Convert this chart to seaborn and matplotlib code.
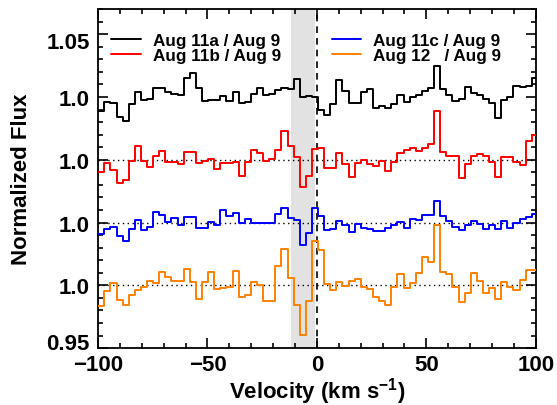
import numpy as np
import pandas as pd
import matplotlib
matplotlib.use('Agg')
import matplotlib.pyplot as plt
import matplotlib.transforms as mtransforms
import seaborn as sns
from matplotlib.ticker import MultipleLocator, FixedLocator, FixedFormatter

# velocity bins (km/s)
bin_width = 2.79
first_edge = -99.93
n_bins = 72

# ratio spectra, deviation from 1 in percent, one value per bin
dev_11a = [-1.11, -0.37, -0.5, -1.56, -1.9, -0.53, 0.43, -0.23, -0.13, 0.75,
           0.75, 0.38, 0.27, 0.16, 1.49, 1.89, 0.75, -0.31, -0.26, -0.21,
           0.08, -0.31, 0.43, -0.45, -0.37, 0.22, 0.75, 0.16, 0.27, 0.59,
           0.75, 0.67, 1.44, 0.0, 0.11, 0.03, -1.06, -1.45, -0.58, 1.36,
           0.48, -0.45, -0.45, 0.4, 0.67, -0.84, -0.71, -0.84, -0.58, 0.16,
           -0.37, 0.03, 0.14, 0.48, 0.72, 2.45, 0.67, 0.16, -0.31, -0.13,
           0.8, 0.35, 0.16, -0.13, -0.5, -1.69, -0.26, 0.0, 0.88, 0.83,
           0.88, 1.54]
dev_11b = [-0.95, -0.29, -0.8, -1.86, -1.59, -0.08, 1.14, -0.08, -0.58, 0.32,
           0.72, -0.16, -0.16, -0.34, 0.66, 0.66, -0.27, -0.08, 0.03, -0.72,
           -0.29, -0.29, -0.21, -1.27, -0.16, 0.8, 0.58, -0.11, 0.03, 0.8,
           2.33, 1.11, 0.19, -2.18, -1.3, 0.9, 0.95, -0.69, -0.66, 0.58,
           -0.34, -1.35, -0.27, 0.0, -0.37, -0.48, -0.11, -0.93, -0.21, 0.53,
           0.8, 0.93, 0.72, 0.95, 1.25, 3.9, 0.66, 0.27, 0.27, -1.41,
           -0.34, 0.27, 0.45, 0.27, -0.21, -1.35, 0.24, 0.19, -0.21, -0.4,
           1.51, 1.96]
dev_11c = [-0.93, -0.53, -0.32, -1.06, -1.46, -0.53, 0.19, -0.61, -0.34, 0.85,
           0.61, 0.08, 0.34, -0.16, 0.48, 0.48, -0.45, -0.45, 0.08, -0.21,
           0.98, 0.53, 0.74, -0.05, 0.27, 0.0, 0.0, 0.0, 0.0, 0.66,
           1.19, 0.37, 0.19, -1.8, -0.8, 1.19, 0.53, -0.61, -0.48, 0.16,
           -0.21, -0.72, -0.08, -0.45, -0.53, -0.66, -0.66, -0.45, -0.21, 0.08,
           -0.4, 0.27, 0.21, 0.61, 0.61, 1.72, 0.53, 0.13, -0.32, -0.58,
           -0.21, 0.13, -0.13, -0.53, -0.21, -0.53, 0.13, -0.4, 0.0, 0.27,
           0.48, 0.72]
dev_12 = [-1.62, -0.42, 0.16, -1.14, -1.59, -0.8, -0.4, -0.16, 0.32, 0.21,
          1.03, 0.64, 0.37, 0.37, 1.3, 0.27, -1.11, 0.27, 1.03, -0.32,
          -0.19, -0.1, 1.11, -0.95, -0.8, 0.29, 0.03, -1.22, -1.27, 1.51,
          2.86, 0.56, -1.56, -3.98, -1.25, 3.53, 2.81, 0.08, -0.34, 0.24,
          -0.08, 0.37, 0.53, -0.13, -0.29, -0.95, -1.27, -1.59, -0.16, 0.88,
          -0.21, 0.21, 1.0, 2.23, 1.83, 4.8, 1.09, 0.93, -0.16, -1.33,
          -0.61, 0.95, 0.32, -0.58, -0.24, -1.11, 0.27, -0.16, -0.37, 0.45,
          1.19, 1.25]

labels = ['Aug 11a / Aug 9', 'Aug 11b / Aug 9', 'Aug 11c / Aug 9', 'Aug 12   / Aug 9']
offsets = [0.15, 0.10, 0.05, 0.0]
colors = ['black', '#ff0000', '#0000ff', '#ff8000']
all_devs = [dev_11a, dev_11b, dev_11c, dev_12]

ytick_pos = [0.95, 1.00, 1.05, 1.10, 1.15, 1.20]
ytick_lab = ['0.95', '1.0', '1.0', '1.0', '1.0', '1.05']

sns.set_style('ticks')
plt.rcParams['font.family'] = ['Liberation Sans', 'DejaVu Sans']
plt.rcParams['font.weight'] = 'bold'
plt.rcParams['axes.labelweight'] = 'bold'
plt.rcParams['mathtext.fontset'] = 'custom'
plt.rcParams['mathtext.rm'] = 'Liberation Sans:bold'
plt.rcParams['mathtext.default'] = 'rm'
for key in ['text.color', 'axes.labelcolor', 'xtick.color', 'ytick.color', 'axes.edgecolor']:
    plt.rcParams[key] = 'black'

edges = first_edge + bin_width * np.arange(n_bins + 1)

fig = plt.figure(figsize=(5.57, 4.06), dpi=100)
ax = fig.add_axes([0.176, 0.14, 0.786, 0.835])

ax.axvspan(-12, -1, color='#e2e2e2', lw=0, zorder=0)
for off in offsets[1:]:
    ax.axhline(1.0 + off, color='black', ls=(0, (1, 2.5)), lw=1.0, zorder=1)
ax.axvline(0, color='black', ls=(0, (4, 3)), lw=1.2, zorder=1)

for lab, off, col, dev in zip(labels, offsets, colors, all_devs):
    flux = 1.0 + np.array(dev) / 100.0 + off
    d = pd.DataFrame({'velocity': edges, 'flux': np.append(flux, flux[-1])})
    sns.lineplot(data=d, x='velocity', y='flux', color=col, lw=1.4,
                 drawstyle='steps-post', label=lab, legend=False, ax=ax, zorder=3)

ax.set_xlim(-100, 100)
ax.set_ylim(0.95, 1.22)
ax.xaxis.set_major_locator(MultipleLocator(50))
ax.xaxis.set_minor_locator(MultipleLocator(10))
ax.yaxis.set_major_locator(FixedLocator(ytick_pos))
ax.yaxis.set_major_formatter(FixedFormatter(ytick_lab))
ax.yaxis.set_minor_locator(MultipleLocator(0.01))
ax.tick_params(which='both', direction='in', top=True, right=True, width=1.2, colors='black')
ax.tick_params(which='major', length=7, labelsize=16, pad=6)
ax.tick_params(axis='x', which='major', pad=4)
ax.tick_params(which='minor', length=3.5)
for s in ax.spines.values():
    s.set_linewidth(1.3)
    s.set_color('black')

# end labels sit a little inside the axis range, as in the original
for tick, txt in zip(ax.yaxis.get_major_ticks(), ytick_lab):
    if txt == '0.95':
        shift = 5 / 72
    elif txt == '1.05':
        shift = -4 / 72
    else:
        continue
    tick.label1.set_transform(tick.label1.get_transform() +
                              mtransforms.ScaledTranslation(0, shift, fig.dpi_scale_trans))

ax.set_xlabel(r'Velocity (km s$^{-1}$)', fontsize=16, labelpad=0)
ax.set_ylabel('Normalized Flux', fontsize=16, labelpad=10)

ax.legend(ncol=2, loc='upper left', bbox_to_anchor=(0.03, 0.93), frameon=False,
          prop={'weight': 'bold', 'size': 12.3}, handlelength=1.75, handletextpad=0.7,
          columnspacing=2.95, labelspacing=0.0, borderaxespad=0, borderpad=0)

fig.savefig('out.png', dpi=100)
